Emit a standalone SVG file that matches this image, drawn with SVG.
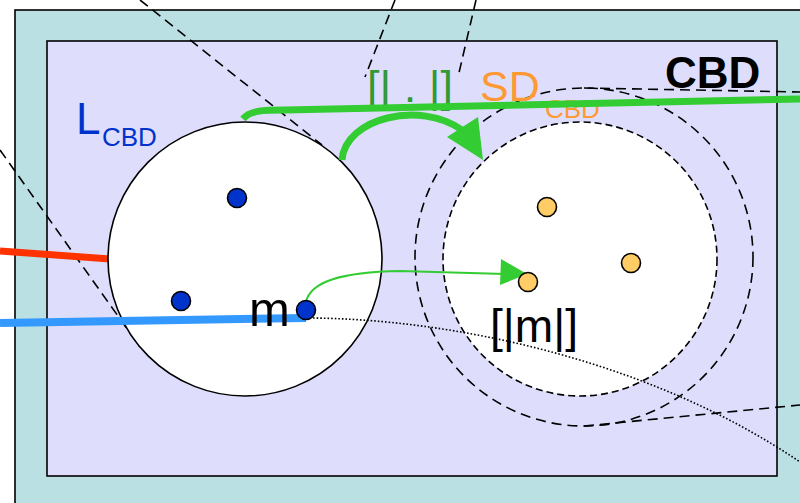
<svg xmlns="http://www.w3.org/2000/svg" width="800" height="503" viewBox="0 0 800 503">
<style>
.t{font-family:"Liberation Sans",Arial,sans-serif}
.dash{fill:none;stroke:#000;stroke-width:1.6;stroke-dasharray:10 6}
.bdot{fill:#0033cc;stroke:#000;stroke-width:1.6}
.odot{fill:#ffcc66;stroke:#000;stroke-width:1.6}
</style>
<g id="cbd-frame">
<rect x="15" y="10" width="820" height="520" fill="#bbe0e3" stroke="#000" stroke-width="1.6"/>
<rect x="47" y="41" width="730" height="435" fill="#dedefc" stroke="#000" stroke-width="1.6"/>
<text class="t" x="665" y="88" font-size="44" font-weight="bold" fill="#000">CBD</text>
</g>
<g id="guides">
<line class="dash" x1="140" y1="0" x2="322" y2="145"/>
<line class="dash" x1="0" y1="150" x2="140" y2="347"/>
<line class="dash" x1="395" y1="0" x2="365" y2="77"/>
<line class="dash" x1="476" y1="0" x2="458" y2="77"/>
<line class="dash" x1="584" y1="88" x2="800" y2="92"/>
<line class="dash" x1="584" y1="426" x2="800" y2="405"/>
</g>
<g id="connectors-under">
<line x1="0" y1="251" x2="110" y2="259" stroke="#ff3300" stroke-width="7"/>
</g>
<g id="L-CBD">
<circle cx="245" cy="259" r="137" fill="#fff" stroke="#000" stroke-width="1.6"/>
<text class="t" x="76" y="134" font-size="44" fill="#0033cc">L</text>
<text class="t" x="102" y="146" font-size="26" fill="#0033cc">CBD</text>
</g>
<g id="SD-CBD">
<circle cx="584" cy="257" r="169" class="dash"/>
<circle cx="580" cy="259" r="137" fill="#fff" stroke="#000" stroke-width="1.6" stroke-dasharray="7 4"/>
<text class="t" x="480" y="101" font-size="43" fill="#ff9933">SD</text>
<text class="t" x="545" y="118" font-size="26" fill="#ff9933">CBD</text>
</g>
<g id="semantic-label">
<text class="t" x="367" y="102" font-size="45" fill="#339933">[| . |]</text>
</g>
<g id="connectors">
<path d="M243,119 C250,110 265,110 285,110 L800,99" fill="none" stroke="#33cc33" stroke-width="7"/>
<path d="M342,160 C345,118 420,100 462,130" fill="none" stroke="#33cc33" stroke-width="7"/>
<polygon points="447,137 478,117 483,160" fill="#33cc33"/>
<line x1="0" y1="323" x2="306" y2="318" stroke="#3399ff" stroke-width="8"/>
<path d="M306,302 C310,282 340,272 400,271 L505,274" fill="none" stroke="#33cc33" stroke-width="2"/>
<polygon points="501,259 527,274 500,285" fill="#33cc33"/>
<path d="M306,318 C450,318 650,360 800,462" fill="none" stroke="#000" stroke-width="1.6" stroke-dasharray="1.6 2"/>
</g>
<g id="m">
<circle class="bdot" cx="237" cy="198" r="9.5"/>
<circle class="bdot" cx="181" cy="301" r="9.5"/>
<circle class="bdot" cx="306" cy="310" r="9.5"/>
<text class="t" x="249" y="326" font-size="49" fill="#000">m</text>
</g>
<g id="m-image">
<circle class="odot" cx="547" cy="207" r="9.5"/>
<circle class="odot" cx="631" cy="263" r="9.5"/>
<circle class="odot" cx="528" cy="282" r="9.5"/>
<text class="t" x="490" y="342" font-size="46" fill="#000" textLength="88" lengthAdjust="spacingAndGlyphs">[|m|]</text>
</g>
</svg>
